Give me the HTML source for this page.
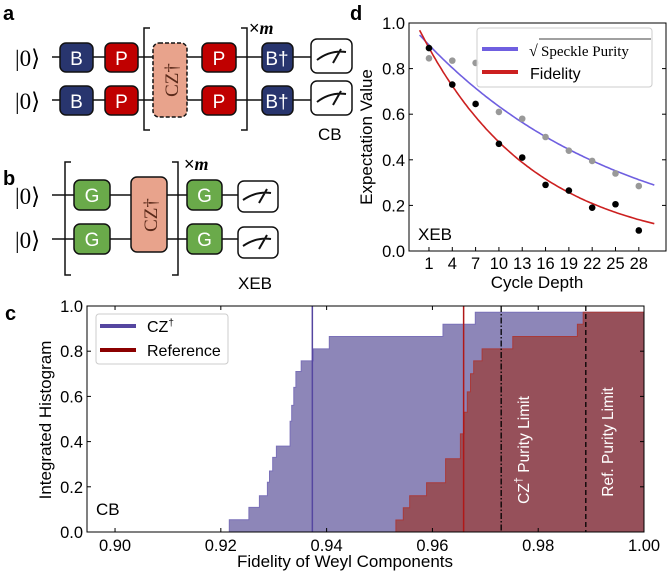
<!DOCTYPE html>
<html><head><meta charset="utf-8"><style>
body{margin:0;background:#fff}
svg{display:block;font-family:"Liberation Sans",sans-serif}
</style></head><body>
<svg id="fig" width="667" height="572" viewBox="0 0 667 572" xmlns="http://www.w3.org/2000/svg">
<g>
<text x="3" y="20" font-size="20" font-weight="bold">a</text>
<line x1="52" y1="57" x2="312" y2="57" stroke="#111" stroke-width="1.5"/>
<line x1="52" y1="100" x2="312" y2="100" stroke="#111" stroke-width="1.5"/>
<text x="15" y="66" font-size="23" font-family="Liberation Serif,serif">|0⟩</text>
<text x="15" y="109" font-size="23" font-family="Liberation Serif,serif">|0⟩</text>
<g><rect x="60" y="43" width="33" height="29" rx="6" fill="#28356e" stroke="#111" stroke-width="1.5"/><text x="76.5" y="65" font-size="19" fill="#fff" text-anchor="middle">B</text></g>
<g><rect x="60" y="86" width="33" height="29" rx="6" fill="#28356e" stroke="#111" stroke-width="1.5"/><text x="76.5" y="108" font-size="19" fill="#fff" text-anchor="middle">B</text></g>
<g><rect x="105" y="43" width="33" height="29" rx="6" fill="#c00000" stroke="#111" stroke-width="1.5"/><text x="121.5" y="65" font-size="19" fill="#fff" text-anchor="middle">P</text></g>
<g><rect x="105" y="86" width="33" height="29" rx="6" fill="#c00000" stroke="#111" stroke-width="1.5"/><text x="121.5" y="108" font-size="19" fill="#fff" text-anchor="middle">P</text></g>
<path d="M150 28 H144 V130 H150 M241 28 H247 V130 H241" fill="none" stroke="#111" stroke-width="1.5"/>
<g><rect x="153" y="43" width="34" height="74" rx="6" fill="#e8a38c" stroke="#111" stroke-width="1.5" stroke-dasharray="4 2"/><text transform="translate(178,80) rotate(-90)" font-size="19" fill="#5a2a1a" text-anchor="middle" font-family="Liberation Serif,serif">CZ†</text></g>
<g><rect x="202" y="43" width="34" height="29" rx="6" fill="#c00000" stroke="#111" stroke-width="1.5"/><text x="219" y="65" font-size="19" fill="#fff" text-anchor="middle">P</text></g>
<g><rect x="202" y="86" width="34" height="29" rx="6" fill="#c00000" stroke="#111" stroke-width="1.5"/><text x="219" y="108" font-size="19" fill="#fff" text-anchor="middle">P</text></g>
<text x="249" y="34" font-size="18">×<tspan font-family="Liberation Serif,serif" font-style="italic" font-weight="bold">m</tspan></text>
<g><rect x="262" y="43" width="31" height="29" rx="6" fill="#28356e" stroke="#111" stroke-width="1.5"/><text x="277" y="65" font-size="19" fill="#fff" text-anchor="middle">B†</text></g>
<g><rect x="262" y="86" width="31" height="29" rx="6" fill="#28356e" stroke="#111" stroke-width="1.5"/><text x="277" y="108" font-size="19" fill="#fff" text-anchor="middle">B†</text></g>
<g><rect x="311" y="39" width="41" height="34" rx="6" fill="#fff" stroke="#111" stroke-width="1.5"/><path d="M317 60 Q330 50 346 52 M333 63 L341 49" fill="none" stroke="#111" stroke-width="2"/></g>
<g><rect x="311" y="81" width="41" height="34" rx="6" fill="#fff" stroke="#111" stroke-width="1.5"/><path d="M317 102 Q330 92 346 94 M333 105 L341 91" fill="none" stroke="#111" stroke-width="2"/></g>
<text x="318" y="140" font-size="17">CB</text>
</g>
<g>
<text x="3" y="185" font-size="20" font-weight="bold">b</text>
<line x1="52" y1="195" x2="240" y2="195" stroke="#111" stroke-width="1.5"/>
<line x1="52" y1="239" x2="240" y2="239" stroke="#111" stroke-width="1.5"/>
<text x="15" y="204" font-size="23" font-family="Liberation Serif,serif">|0⟩</text>
<text x="15" y="248" font-size="23" font-family="Liberation Serif,serif">|0⟩</text>
<path d="M71 162 H65 V275 H71 M172 162 H178 V275 H172" fill="none" stroke="#111" stroke-width="1.5"/>
<g><rect x="74" y="180" width="36" height="30" rx="6" fill="#6aaa4a" stroke="#111" stroke-width="1.5"/><text x="92" y="202" font-size="19" fill="#fff" text-anchor="middle">G</text></g>
<g><rect x="74" y="224" width="36" height="30" rx="6" fill="#6aaa4a" stroke="#111" stroke-width="1.5"/><text x="92" y="246" font-size="19" fill="#fff" text-anchor="middle">G</text></g>
<g><rect x="131" y="177" width="36" height="75" rx="6" fill="#e8a38c" stroke="#111" stroke-width="1.5"/><text transform="translate(157,215) rotate(-90)" font-size="19" fill="#5a2a1a" text-anchor="middle" font-family="Liberation Serif,serif">CZ†</text></g>
<text x="184" y="170" font-size="18">×<tspan font-family="Liberation Serif,serif" font-style="italic" font-weight="bold">m</tspan></text>
<g><rect x="187" y="180" width="35" height="30" rx="6" fill="#6aaa4a" stroke="#111" stroke-width="1.5"/><text x="204.5" y="202" font-size="19" fill="#fff" text-anchor="middle">G</text></g>
<g><rect x="187" y="224" width="35" height="30" rx="6" fill="#6aaa4a" stroke="#111" stroke-width="1.5"/><text x="204.5" y="246" font-size="19" fill="#fff" text-anchor="middle">G</text></g>
<g><rect x="238" y="181" width="40" height="31" rx="6" fill="#fff" stroke="#111" stroke-width="1.5"/><path d="M243 200 Q256 191 271 193 M259 203 L267 189" fill="none" stroke="#111" stroke-width="2"/></g>
<g><rect x="238" y="227" width="40" height="31" rx="6" fill="#fff" stroke="#111" stroke-width="1.5"/><path d="M243 246 Q256 237 271 239 M259 249 L267 235" fill="none" stroke="#111" stroke-width="2"/></g>
<text x="238" y="289" font-size="17">XEB</text>
</g>
<text x="350" y="20" font-size="20" font-weight="bold">d</text>
<text x="5" y="320" font-size="20" font-weight="bold">c</text>
<g id="gd"></g>
<g id="gc"></g>
</svg>
<script>
// ---- Panel d data ----
const depths = [1,4,7,10,13,16,19,22,25,28];
const fidelityPts = [0.89,0.73,0.645,0.47,0.41,0.29,0.265,0.19,0.205,0.09];
const purityPts = [0.845,0.835,0.825,0.61,0.58,0.50,0.44,0.395,0.34,0.285];
const purityFit = [0.94,0.0393];   // amplitude, decay rate
const fidelityFit = [0.955,0.0692];
const dTicksX = [1,4,7,10,13,16,19,22,25,28];
const dTicksY = [0,0.2,0.4,0.6,0.8,1.0];
// ---- Panel c data ----
const czEdges = [0.9216,0.9253,0.9273,0.9288,0.9292,0.9298,0.9305,0.9331,0.9334,0.9338,0.9342,0.9352,0.9375,0.9405,0.962,0.9681];
const czLevels = [0.054,0.109,0.16,0.22,0.27,0.33,0.38,0.49,0.56,0.64,0.71,0.757,0.81,0.865,0.919,0.972];
const refEdges = [0.9531,0.9545,0.9557,0.9589,0.9625,0.9653,0.9660,0.9666,0.9672,0.9678,0.9694,0.9752,0.9874,0.9885];
const refLevels = [0.053,0.107,0.16,0.218,0.324,0.434,0.53,0.62,0.70,0.757,0.81,0.865,0.919,0.972];
const czMean = [0.9373];
const refMean = [0.9659];
const purityLimits = [0.973,0.989];
const cTicksX = [0.90,0.92,0.94,0.96,0.98,1.00];
const cTicksY = [0,0.2,0.4,0.6,0.8,1.0];

const NS='http://www.w3.org/2000/svg';
function mk(parent,tag,attrs,text){const e=document.createElementNS(NS,tag);for(const k in attrs)e.setAttribute(k,attrs[k]);if(text!==undefined)e.textContent=text;parent.appendChild(e);return e;}

(function(){
const g=document.getElementById('gd');


const L=409,R=666,T=23,B=251;
const xmin=-1.57,xmax=31.5;
const sx=v=>L+(v-xmin)/(xmax-xmin)*(R-L);
const sy=v=>B-v*(B-T);
const fitPath=(p)=>{let d='';for(let i=0;i<=120;i++){const x=-0.2+i*(30.2/120);d+=(i?'L':'M')+sx(x).toFixed(1)+' '+sy(p[0]*Math.exp(-p[1]*x)).toFixed(1);}return d;};
const bl=mk(g,'path',{d:fitPath(purityFit),fill:'none',stroke:'#6f5fe0','stroke-width':1.6});


const rl=mk(g,'path',{d:fitPath(fidelityFit),fill:'none',stroke:'#cc2020','stroke-width':1.6});


depths.forEach((x,i)=>{
 const c1=mk(g,'circle',{cx:sx(x),cy:sy(purityPts[i]),r:3.3,fill:'#999'});
 
 
 const c2=mk(g,'circle',{cx:sx(x),cy:sy(fidelityPts[i]),r:3.3,fill:'#000'});
 
 
});
const lg=mk(g,'g',{});


mk(lg,'rect',{x:477,y:28,width:175,height:59,rx:3,fill:'#fff','fill-opacity':0.85,stroke:'#ccc'});
mk(lg,'line',{x1:482,y1:49,x2:518,y2:49,stroke:'#6f5fe0','stroke-width':4});
mk(lg,'line',{x1:482,y1:72,x2:518,y2:72,stroke:'#cc2020','stroke-width':4});
mk(lg,'text',{x:529,y:56,'font-size':16,'font-family':'Liberation Serif,serif'},'√');
mk(lg,'line',{x1:539,y1:39,x2:651,y2:39,stroke:'#000','stroke-width':0.8});
mk(lg,'text',{x:541,y:56,'font-size':15,'font-family':'Liberation Serif,serif'},'Speckle Purity');
mk(lg,'text',{x:530,y:79,'font-size':16},'Fidelity');
mk(g,'rect',{x:L,y:T,width:R-L,height:B-T,fill:'none',stroke:'#000','stroke-width':1});
dTicksX.forEach(v=>{mk(g,'line',{x1:sx(v),x2:sx(v),y1:B,y2:B-4,stroke:'#000'});
 const t=mk(g,'text',{x:sx(v),y:B+18,'font-size':16.5,'text-anchor':'middle'},String(v));
 
 });
dTicksY.forEach(v=>{mk(g,'line',{x1:L,x2:L+4,y1:sy(v),y2:sy(v),stroke:'#000'});mk(g,'line',{x1:R,x2:R-4,y1:sy(v),y2:sy(v),stroke:'#000'});
 const t=mk(g,'text',{x:L-4,y:sy(v)+6,'font-size':16.5,'text-anchor':'end'},v.toFixed(1));
 
 });
const xt=mk(g,'text',{x:537,y:288,'font-size':17,'text-anchor':'middle'},'Cycle Depth');


const yt=mk(g,'text',{transform:'translate(372,137) rotate(-90)','font-size':17,'text-anchor':'middle'},'Expectation Value');


const xe=mk(g,'text',{x:418,y:240,'font-size':17},'XEB');


})();

(function(){
const g=document.getElementById('gc');


const L=87,R=644,T=306,B=532;
const xmin=0.8947,xmax=1.0;
const sx=v=>L+(v-xmin)/(xmax-xmin)*(R-L);
const sy=v=>B-v*(B-T);
function stepPath(edges,levels){let d='M'+sx(edges[0])+' '+sy(0);for(let i=0;i<edges.length;i++){d+='L'+sx(edges[i]).toFixed(1)+' '+sy(levels[i]).toFixed(1);const nx=i+1<edges.length?edges[i+1]:1.0;d+='L'+sx(nx).toFixed(1)+' '+sy(levels[i]).toFixed(1);}return d;}
const czd=stepPath(czEdges,czLevels);
const a1=mk(g,'path',{d:czd+'L'+sx(1)+' '+sy(0)+'Z',fill:'#8d86b8',stroke:'#7a70b8','stroke-width':1});


const rfd=stepPath(refEdges,refLevels);
const a2=mk(g,'path',{d:rfd+'L'+sx(1)+' '+sy(0)+'Z',fill:'#96505a',stroke:'#a83a3a','stroke-width':1});


const m1=mk(g,'line',{x1:sx(czMean[0]),x2:sx(czMean[0]),y1:T,y2:B,stroke:'#5546a0','stroke-width':1.5});


const m2=mk(g,'line',{x1:sx(refMean[0]),x2:sx(refMean[0]),y1:T,y2:B,stroke:'#b01818','stroke-width':1.5});


const p1=mk(g,'line',{x1:sx(purityLimits[0]),x2:sx(purityLimits[0]),y1:T,y2:B,stroke:'#000','stroke-width':1.3,'stroke-dasharray':'6 2 1.5 2'});


const p2=mk(g,'line',{x1:sx(purityLimits[1]),x2:sx(purityLimits[1]),y1:T,y2:B,stroke:'#000','stroke-width':1.3,'stroke-dasharray':'5 3'});


const t1=mk(g,'text',{transform:'translate(529,450) rotate(-90)','font-size':15.5,fill:'#fff','text-anchor':'middle'});
t1.innerHTML='CZ<tspan dy="-7" font-size="11">†</tspan><tspan dy="7"> Purity Limit</tspan>';


const t2=mk(g,'text',{transform:'translate(613,442) rotate(-90)','font-size':15.5,fill:'#fff','text-anchor':'middle'},'Ref.  Purity Limit');


mk(g,'rect',{x:L,y:T,width:R-L,height:B-T,fill:'none',stroke:'#000','stroke-width':1});
cTicksX.forEach(v=>{mk(g,'line',{x1:sx(v),x2:sx(v),y1:B,y2:B-4,stroke:'#000'});mk(g,'line',{x1:sx(v),x2:sx(v),y1:T,y2:T+4,stroke:'#000'});
 const t=mk(g,'text',{x:sx(v),y:B+19,'font-size':16.5,'text-anchor':'middle'},v.toFixed(2));
 
 });
cTicksY.forEach(v=>{mk(g,'line',{x1:L,x2:L+4,y1:sy(v),y2:sy(v),stroke:'#000'});mk(g,'line',{x1:R,x2:R-4,y1:sy(v),y2:sy(v),stroke:'#000'});
 const t=mk(g,'text',{x:L-4,y:sy(v)+6,'font-size':16.5,'text-anchor':'end'},v.toFixed(1));
 
 });
const lg=mk(g,'g',{});


mk(lg,'rect',{x:96,y:314,width:132,height:50,rx:3,fill:'#fff',stroke:'#ccc'});
mk(lg,'line',{x1:100,y1:326,x2:136,y2:326,stroke:'#5546a0','stroke-width':4});
mk(lg,'line',{x1:100,y1:350,x2:136,y2:350,stroke:'#8b0000','stroke-width':4});
const lt=mk(lg,'text',{x:147,y:332,'font-size':16});lt.innerHTML='CZ<tspan dy="-6" font-size="10">†</tspan>';
mk(lg,'text',{x:147,y:356,'font-size':16},'Reference');
const xt=mk(g,'text',{x:345,y:567,'font-size':17,'text-anchor':'middle'},'Fidelity of Weyl Components');


const yt=mk(g,'text',{transform:'translate(51,420) rotate(-90)','font-size':17,'text-anchor':'middle'},'Integrated Histogram');


const cb=mk(g,'text',{x:96,y:515,'font-size':17},'CB');


})();
</script>
</body></html>
